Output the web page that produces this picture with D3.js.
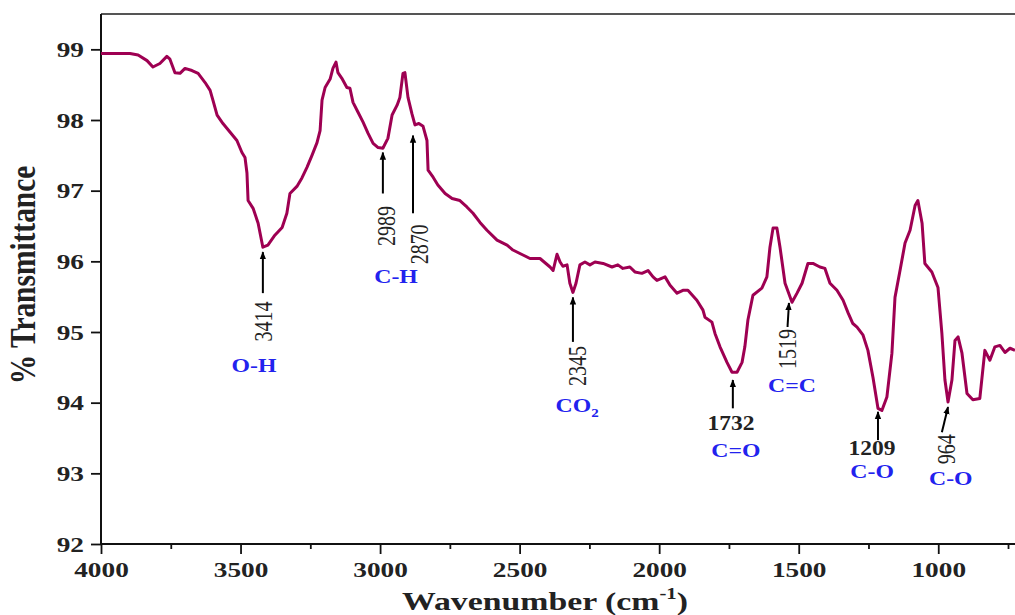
<!DOCTYPE html>
<html><head><meta charset="utf-8">
<script src="https://cdn.jsdelivr.net/npm/d3@7"></script>
<style>body{margin:0;background:#fff;} svg{display:block;}</style>
</head><body><svg id="c" width="1015" height="615"></svg>
<script>
// ---------- data ----------
const wavenumber = [4000,3896,3867,3835,3814,3789,3764,3753,3735,3717,3699,3674,3652,3627,3609,3599,3584,3563,3538,3513,3495,3484,3477,3473,3455,3437,3420,3402,3377,3351,3334,3323,3298,3280,3262,3244,3226,3215,3208,3197,3179,3169,3158,3151,3137,3119,3108,3097,3079,3061,3043,3025,3007,2990,2972,2957,2939,2929,2918,2911,2900,2886,2875,2861,2846,2832,2828,2810,2793,2767,2742,2714,2689,2667,2642,2617,2581,2545,2524,2488,2463,2427,2391,2380,2366,2355,2345,2330,2320,2309,2298,2284,2266,2248,2230,2201,2169,2148,2130,2105,2087,2062,2040,2022,2008,1979,1961,1936,1915,1897,1865,1843,1836,1811,1800,1782,1757,1739,1721,1703,1693,1682,1664,1632,1614,1603,1592,1578,1567,1549,1524,1506,1488,1467,1449,1424,1406,1388,1363,1341,1323,1306,1291,1270,1252,1234,1216,1202,1184,1166,1155,1137,1119,1101,1083,1073,1058,1048,1023,1001,987,976,965,951,940,929,915,897,876,851,833,815,797,779,761,743,725];
const transmittance = [98.94,98.94,98.92,98.84,98.75,98.80,98.90,98.86,98.67,98.66,98.73,98.70,98.66,98.53,98.42,98.28,98.07,97.95,97.83,97.71,97.54,97.47,97.25,96.86,96.75,96.54,96.20,96.23,96.37,96.48,96.68,96.96,97.06,97.18,97.33,97.50,97.68,97.85,98.28,98.46,98.58,98.73,98.82,98.67,98.59,98.46,98.45,98.25,98.11,97.97,97.81,97.67,97.61,97.60,97.74,98.07,98.21,98.32,98.66,98.67,98.32,98.09,97.93,97.95,97.91,97.71,97.29,97.19,97.08,96.96,96.89,96.86,96.77,96.68,96.55,96.44,96.30,96.23,96.16,96.09,96.04,96.04,95.92,95.87,96.10,95.99,95.93,95.95,95.69,95.56,95.69,95.95,95.99,95.95,95.99,95.97,95.92,95.95,95.90,95.92,95.85,95.83,95.87,95.78,95.73,95.78,95.66,95.55,95.59,95.59,95.45,95.31,95.21,95.14,94.98,94.79,94.57,94.43,94.43,94.57,94.79,95.17,95.52,95.62,95.78,96.20,96.47,96.47,96.20,95.69,95.42,95.55,95.69,95.97,95.97,95.92,95.90,95.69,95.59,95.45,95.27,95.12,95.07,94.96,94.74,94.36,93.92,93.89,94.08,94.70,95.49,95.87,96.26,96.44,96.79,96.86,96.54,95.97,95.85,95.63,94.98,94.32,94.01,94.32,94.88,94.93,94.70,94.13,94.04,94.06,94.74,94.60,94.79,94.81,94.71,94.77,94.74];

const xTicks = [4000,3500,3000,2500,2000,1500,1000];
const xMinorTicks = [3750,3250,2750,2250,1750,1250,750];
const yTicks = [92,93,94,95,96,97,98,99];

// peak annotations
const peakLabels   = ["3414","2989","2870","2345","1732","1519","1209","964"];
const arrowTipWn   = [3420,2990,2882,2309,1736,1535,1216,965];
const arrowTailWn  = [3420,2990,2882,2309,1736,1540,1216,987];
const arrowTipT    = [96.13,97.54,97.78,95.49,94.32,95.41,93.87,93.94];
const arrowTailT   = [95.55,96.96,96.68,94.86,93.92,95.07,93.47,93.58];
const groupLabels  = ["O-H","C-H","CO2","C=O","C=C","C-O","C-O"];

// ---------- layout ----------
const svg = d3.select("#c");
const L = 101, R = 1015, T = 14, B = 544;
const x = d3.scaleLinear().domain([4000, 725]).range([L, R]);
const y = d3.scaleLinear().domain([92, 99.5]).range([B, T]);
const font = "'Liberation Serif','Times New Roman',serif";
const SX = 1.3;

// top frame line
svg.append("line").attr("x1", L).attr("x2", R).attr("y1", T).attr("y2", T)
  .attr("stroke", "#555").attr("stroke-width", 2);

// x axis
const gx = svg.append("g").attr("transform", `translate(0,${B})`)
  .call(d3.axisBottom(x).tickValues(xTicks).tickSize(10).tickSizeOuter(0).tickFormat(d3.format("d")));
svg.append("g").attr("transform", `translate(0,${B})`)
  .call(d3.axisBottom(x).tickValues(xMinorTicks).tickSize(5).tickSizeOuter(0).tickFormat(""))
  .call(g => g.select(".domain").remove());
// y axis
const gy = svg.append("g").attr("transform", `translate(${L},0)`)
  .call(d3.axisLeft(y).tickValues(yTicks).tickSize(10).tickSizeOuter(0).tickFormat(d3.format("d")));

svg.selectAll(".domain").attr("stroke", "#111").attr("stroke-width", 2);
svg.selectAll(".tick line").attr("stroke", "#111").attr("stroke-width", 1.8);
gx.selectAll(".domain").attr("d", `M${L},0H${R}`);
gy.selectAll(".domain").attr("d", `M0,${T}V${B}`);

gx.selectAll(".tick text")
  .attr("font-family", font).attr("font-size", 21).attr("font-weight", "bold").attr("fill", "#222")
  .attr("y", 0).attr("dy", null)
  .attr("transform", `translate(0,33) scale(${SX},1)`);
gy.selectAll(".tick text")
  .attr("font-family", font).attr("font-size", 21).attr("font-weight", "bold").attr("fill", "#222")
  .attr("x", 0).attr("dy", "0.34em")
  .attr("transform", `translate(-17,0) scale(${SX},1)`);

// axis titles
const xt = svg.append("text").attr("font-family", font).attr("font-size", 26).attr("font-weight", "bold")
  .attr("fill", "#222").attr("text-anchor", "middle")
  .attr("transform", `translate(545,610) scale(${SX},1)`);
xt.append("tspan").text("Wavenumber (cm");
xt.append("tspan").text("-1").attr("font-size", 16).attr("dy", -11);
xt.append("tspan").text(")").attr("dy", 11);

svg.append("text").attr("font-family", font).attr("font-size", 28).attr("font-weight", "bold")
  .attr("fill", "#222").attr("text-anchor", "middle")
  .attr("transform", `translate(35,275) rotate(-90) scale(1.05,1.25)`)
  .text("% Transmittance");

// spectrum line
const line = d3.line().x((d, i) => x(wavenumber[i])).y((d, i) => y(transmittance[i]));
svg.append("path").datum(wavenumber).attr("d", line)
  .attr("fill", "none").attr("stroke", "#9E0052").attr("stroke-width", 3).attr("stroke-linejoin", "round");

// arrows
const defs = svg.append("defs");
defs.append("marker").attr("id", "ah").attr("viewBox", "0 0 10 10").attr("refX", 9).attr("refY", 5)
  .attr("markerWidth", 4).attr("markerHeight", 4).attr("orient", "auto")
  .append("path").attr("d", "M0,1L10,5L0,9Z").attr("fill", "#000");
peakLabels.forEach((p, i) => {
  svg.append("line")
    .attr("x1", x(arrowTailWn[i])).attr("y1", y(arrowTailT[i]))
    .attr("x2", x(arrowTipWn[i])).attr("y2", y(arrowTipT[i]))
    .attr("stroke", "#000").attr("stroke-width", 2).attr("marker-end", "url(#ah)");
});

// numeric peak labels: [label index, wn, T, rotated?]
const numPos = [
  [0, 3420, 95.15, true], [1, 2979, 96.50, true], [2, 2861, 96.24, true], [3, 2294, 94.52, true],
  [4, 1743, 93.61, false], [5, 1542, 94.76, true], [6, 1237, 93.26, false], [7, 972, 93.34, true]
];
numPos.forEach(([i, wn, t, rot]) => {
  if (rot) {
    svg.append("text").attr("font-family", font).attr("font-size", 20).attr("fill", "#222")
      .attr("text-anchor", "middle").attr("dy", "0.35em")
      .attr("transform", `translate(${x(wn)},${y(t)}) rotate(-90) scale(1,1.3)`)
      .text(peakLabels[i]);
  } else {
    svg.append("text").attr("font-family", font).attr("font-size", 21).attr("font-weight", "bold").attr("fill", "#222")
      .attr("text-anchor", "middle")
      .attr("transform", `translate(${x(wn)},${y(t)}) scale(1.12,1)`)
      .text(peakLabels[i]);
  }
});

// group labels (blue)
const grpPos = [[3452, 94.43], [2943, 95.69], [2294, 93.87], [1725, 93.23], [1524, 94.15], [1237, 92.93], [955, 92.83]];
groupLabels.forEach((g, i) => {
  const t = svg.append("text").attr("font-family", font).attr("font-size", 19).attr("font-weight", "bold")
    .attr("fill", "#2222ee").attr("text-anchor", "middle")
    .attr("transform", `translate(${x(grpPos[i][0])},${y(grpPos[i][1])}) scale(1.25,1)`);
  if (g === "CO2") {
    t.append("tspan").text("CO");
    t.append("tspan").text("2").attr("font-size", 12).attr("dy", 5);
  } else {
    t.text(g);
  }
});
</script></body></html>
